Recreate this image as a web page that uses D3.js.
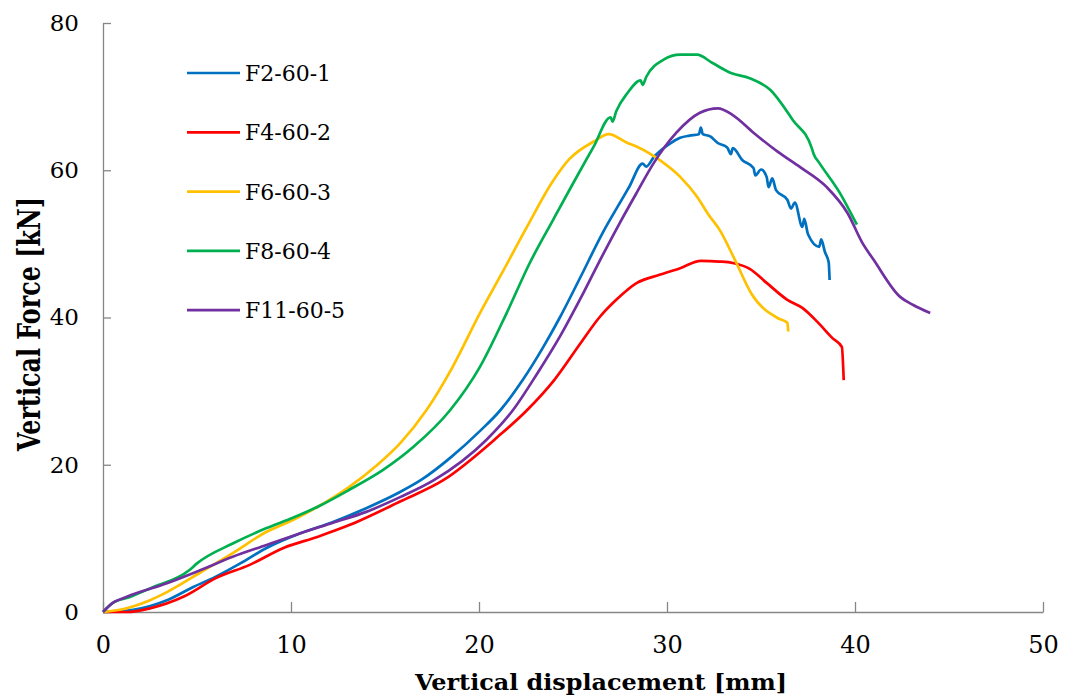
<!DOCTYPE html>
<html>
<head>
<meta charset="utf-8">
<script src="https://cdn.jsdelivr.net/npm/d3@7"></script>
<style>
  body { margin: 0; background: #fff; }
  svg { display: block; }
</style>
</head>
<body>
<div id="chart"></div>
<script>
// series names and colours
const names = ["F2-60-1", "F4-60-2", "F6-60-3", "F8-60-4", "F11-60-5"];
const colors = ["#0070C0", "#FF0000", "#FFC000", "#00B050", "#7030A0"];

// [displacement mm, force kN]
const f2 = [[0,0],[1.6,0.3],[3.4,1.6],[4.8,3.4],[6.0,4.8],[7.3,6.6],[8.7,8.7],[10.5,10.7],[12.2,12.2],[14.0,14.1],[15.8,16.3],[16.9,17.9],[18.5,21.0],[20.1,24.7],[21.1,27.3],[22.35,31.6],[23.4,35.9],[24.3,40.0],[25.4,45.5],[26.6,51.6],[27.5,55.6],[28.0,57.8],[28.7,60.9],[28.9,60.5],[29.3,61.8],[30.2,63.7],[30.7,64.4],[31.2,64.7],[31.7,64.9],[31.8,65.8],[31.9,64.9],[32.3,64.6],[32.7,63.7],[33.2,63.1],[33.4,62.2],[33.5,63.0],[34.0,61.4],[34.6,60.3],[34.7,59.3],[35.0,60.1],[35.3,59.1],[35.4,57.7],[35.6,58.9],[35.8,57.3],[36.4,56.0],[36.6,54.8],[36.8,55.6],[37.2,52.3],[37.3,53.4],[37.5,51.3],[38.1,49.6],[38.2,50.6],[38.4,48.9],[38.6,47.5],[38.65,45.1]];

const f4 = [[0,0],[1.3,0],[2.5,0.5],[4.3,2.1],[6.0,4.6],[7.8,6.4],[9.6,8.7],[11.4,10.2],[13.1,11.8],[15.8,15.0],[18.1,17.9],[21.0,23.8],[22.55,27.4],[24.0,31.5],[25.4,36.5],[26.4,40.0],[27.3,42.4],[28.4,44.7],[29.6,45.8],[30.7,46.7],[31.8,47.7],[32.8,47.6],[33.5,47.4],[34.4,46.6],[35.3,44.7],[36.4,42.4],[37.2,41.3],[38.0,39.4],[38.8,37.2],[39.3,36.0],[39.4,31.5]];

const f6 = [[0,0],[0.9,0.3],[2.5,1.6],[3.4,2.7],[5.2,5.4],[6.9,8.0],[8.7,10.9],[10.1,12.5],[11.5,14.4],[13.1,17.0],[14.6,20.0],[15.8,22.9],[17.2,27.4],[18.6,33.3],[20.05,40.6],[21.3,46.4],[22.55,52.3],[23.9,58.4],[24.8,61.5],[26.1,63.9],[26.9,64.9],[27.9,63.7],[28.4,63.2],[29.6,61.4],[30.7,59.1],[31.6,56.4],[32.2,54.0],[32.8,51.9],[33.6,47.9],[34.5,43.2],[35.9,39.9],[36.4,39.3],[36.45,38.1]];

const f8 = [[0,0],[0.5,1.2],[1.4,2.0],[2.5,3.2],[4.6,5.7],[5.0,6.6],[6.9,9.3],[8.7,11.4],[10.1,12.8],[11.5,14.4],[13.1,16.6],[14.9,19.3],[16.5,22.4],[18.46,27.4],[20.05,33.3],[21.47,40.6],[22.7,47.4],[23.95,53.3],[25.0,58.2],[25.7,61.4],[26.1,63.2],[27.0,67.2],[27.1,66.6],[27.3,68.0],[27.9,70.5],[28.6,72.2],[28.7,71.6],[28.9,72.7],[29.8,75.0],[30.7,75.7],[31.6,75.7],[32.4,74.6],[33.4,73.2],[34.4,72.5],[35.5,70.9],[36.7,66.8],[37.7,63.0],[37.8,62.2],[38.1,61.0],[39.2,56.9],[40.1,52.6]];

const f11 = [[0,0],[0.5,1.2],[1.3,2.1],[3.4,3.9],[5.2,5.7],[6.9,7.5],[8.7,9.1],[10.5,10.7],[12.2,12.1],[14.0,13.6],[15.8,15.6],[17.6,17.9],[20.4,23.4],[21.8,27.4],[23.1,32.4],[24.3,37.4],[25.4,42.6],[26.4,47.6],[27.5,52.9],[28.4,57.0],[29.3,61.0],[30.5,65.1],[31.75,67.8],[32.7,68.4],[33.5,67.5],[34.6,65.1],[35.9,62.5],[37.1,60.4],[38.5,57.7],[39.6,54.2],[40.4,50.1],[41.0,47.8],[42.4,42.8],[43.1,41.7],[44.0,40.6]];

const xTicks = [0, 10, 20, 30, 40, 50];
const yTicks = [0, 20, 40, 60, 80];

const series = [f2, f4, f6, f8, f11];

const width = 1065, height = 698;
const svg = d3.select('#chart').append('svg')
  .attr('width', width)
  .attr('height', height);

const x = d3.scaleLinear().domain([0, 50]).range([103, 1043]);
const y = d3.scaleLinear().domain([0, 80]).range([612, 23]);

const axisColor = '#868686';
const font = '"DejaVu Serif", serif';

// x axis, ticks point up into the plot
const gx = svg.append('g')
  .attr('transform', `translate(0,${y(0)})`)
  .call(d3.axisBottom(x).tickValues(xTicks).tickSizeInner(-10).tickSizeOuter(0).tickPadding(24));
gx.select('.domain').attr('stroke', axisColor).attr('stroke-width', 1.3);
gx.selectAll('.tick line').attr('stroke', axisColor).attr('stroke-width', 1.3);
gx.selectAll('.tick text')
  .attr('font-family', font)
  .attr('font-size', '24px')
  .attr('fill', '#000');

// y axis, ticks point right into the plot
const gy = svg.append('g')
  .attr('transform', `translate(${x(0)},0)`)
  .call(d3.axisLeft(y).tickValues(yTicks).tickSizeInner(-8).tickSizeOuter(0).tickPadding(24));
gy.select('.domain').attr('stroke', axisColor).attr('stroke-width', 1.3);
gy.selectAll('.tick text')
  .attr('font-family', font)
  .attr('font-size', '23px')
  .attr('fill', '#000');
gy.selectAll('.tick line').attr('stroke', axisColor).attr('stroke-width', 1.3);

// curves
const line = d3.line()
  .x(d => x(d[0]))
  .y(d => y(d[1]))
  .curve(d3.curveMonotoneX);

series.forEach((pts, i) => {
  svg.append('path')
    .datum(pts)
    .attr('d', line)
    .attr('fill', 'none')
    .attr('stroke', colors[i])
    .attr('stroke-width', 2.7)
    .attr('stroke-linejoin', 'round');
});

// legend
const legend = svg.append('g').attr('transform', 'translate(187,73)');
names.forEach((n, i) => {
  const g = legend.append('g').attr('transform', `translate(0,${i * 59.3})`);
  g.append('line')
    .attr('x1', 0).attr('x2', 53)
    .attr('stroke', colors[i])
    .attr('stroke-width', 2.7);
  g.append('text')
    .attr('x', 58)
    .attr('dy', '0.36em')
    .attr('font-family', font)
    .attr('font-size', '22px')
    .text(n);
});

// axis titles
svg.append('text')
  .attr('x', 601)
  .attr('y', 690)
  .attr('text-anchor', 'middle')
  .attr('font-family', font)
  .attr('font-weight', 'bold')
  .attr('font-size', '23px')
  .attr('textLength', 372)
  .attr('lengthAdjust', 'spacingAndGlyphs')
  .text('Vertical displacement [mm]');

svg.append('text')
  .attr('transform', 'translate(40,324) rotate(-90)')
  .attr('text-anchor', 'middle')
  .attr('font-family', font)
  .attr('font-weight', 'bold')
  .attr('font-size', '32px')
  .attr('textLength', 254)
  .attr('lengthAdjust', 'spacingAndGlyphs')
  .text('Vertical Force [kN]');
</script>
</body>
</html>
